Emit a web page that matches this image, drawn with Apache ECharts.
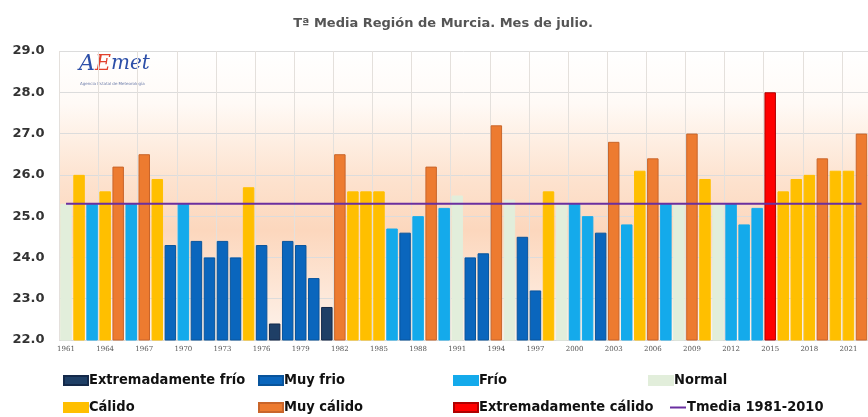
<!DOCTYPE html>
<html>
<head>
<meta charset="utf-8">
<script src="https://cdn.jsdelivr.net/npm/echarts@6/dist/echarts.min.js"></script>
<style>
  html, body { margin: 0; padding: 0; background: #fff; }
  #chart { width: 868px; height: 417px; }
</style>
</head>
<body>
<div id="chart"></div>
<script>
// años 1961-2022
const years = [];
for (let y = 1961; y <= 2022; y++) years.push(String(y));

const temps = [
  25.3, 26.0, 25.3, 25.6, 26.2, 25.3, 26.5, 25.9, 24.3, 25.3,
  24.4, 24.0, 24.4, 24.0, 25.7, 24.3, 22.4, 24.4, 24.3, 23.5,
  22.8, 26.5, 25.6, 25.6, 25.6, 24.7, 24.6, 25.0, 26.2, 25.2,
  25.5, 24.0, 24.1, 27.2, 25.4, 24.5, 23.2, 25.6, 25.3, 25.3,
  25.0, 24.6, 26.8, 24.8, 26.1, 26.4, 25.3, 25.3, 27.0, 25.9,
  25.3, 25.3, 24.8, 25.2, 28.0, 25.6, 25.9, 26.0, 26.4, 26.1,
  26.1, 27.0
];

// EF extremadamente frío, MF muy frío, F frío, N normal, C cálido, MC muy cálido, EC extremadamente cálido
const classes = [
  'N', 'C', 'F', 'C', 'MC', 'F', 'MC', 'C', 'MF', 'F',
  'MF', 'MF', 'MF', 'MF', 'C', 'MF', 'EF', 'MF', 'MF', 'MF',
  'EF', 'MC', 'C', 'C', 'C', 'F', 'MF', 'F', 'MC', 'F',
  'N', 'MF', 'MF', 'MC', 'N', 'MF', 'MF', 'C', 'N', 'F',
  'F', 'MF', 'MC', 'F', 'C', 'MC', 'F', 'N', 'MC', 'C',
  'N', 'F', 'F', 'F', 'EC', 'C', 'C', 'C', 'MC', 'C',
  'C', 'MC'
];

const meanT = 25.3;
const yTicks = [22, 23, 24, 25, 26, 27, 28, 29];

const classDefs = [
  { key: 'EF', name: 'Extremadamente frío', color: '#1f3f66', border: '#14294a' },
  { key: 'MF', name: 'Muy frio', color: '#0a66bd', border: '#08549c' },
  { key: 'F', name: 'Frío', color: '#14aaeb', border: '#14aaeb' },
  { key: 'N', name: 'Normal', color: '#e2eedb', border: '#e2eedb' },
  { key: 'C', name: 'Cálido', color: '#ffbf00', border: '#ffbf00' },
  { key: 'MC', name: 'Muy cálido', color: '#ed7b30', border: '#c9652a' },
  { key: 'EC', name: 'Extremadamente cálido', color: '#ff0000', border: '#b00000' }
];
const lineName = 'Tmedia 1981-2010';

const chart = echarts.init(document.getElementById('chart'));

const barSeries = classDefs.map(function (c) {
  return {
    name: c.name,
    type: 'bar',
    barWidth: '88%',
    barGap: '-100%',
    itemStyle: { color: c.color, borderColor: c.border, borderWidth: 1 },
    data: temps.map(function (v, j) { return classes[j] === c.key ? v : null; }),
    z: 2
  };
});

const legendFont = { fontFamily: 'DejaVu Sans Condensed', fontSize: 14.5, color: '#111', fontWeight: 'bold' };
const legendPos = [
  [63, 373], [258, 373], [453, 373], [648, 373],
  [63, 400], [258, 400], [453, 400], [670, 400]
];
const legendNames = classDefs.map(function (c) { return c.name; }).concat([lineName]);
const legends = legendNames.map(function (n, i) {
  const isLine = n === lineName;
  return {
    data: [{ name: n, icon: 'rect' }],
    left: legendPos[i][0],
    top: legendPos[i][1],
    itemWidth: isLine ? 16 : 24,
    itemHeight: isLine ? 2 : 9,
    itemGap: 0,
    padding: 0,
    textStyle: Object.assign({ padding: [0, 0, 0, -4] }, legendFont),
    selectedMode: false
  };
});

chart.setOption({
  animation: false,
  backgroundColor: '#ffffff',
  title: {
    text: 'Tª Media Región de Murcia. Mes de julio.',
    left: 438,
    textAlign: 'center',
    top: 12,
    textStyle: { fontFamily: 'DejaVu Sans', fontSize: 13, fontWeight: 'bold', color: '#555' }
  },
  legend: legends,
  grid: {
    left: 59.5,
    top: 51,
    width: 815,
    height: 289,
    show: true,
    borderWidth: 0,
    backgroundColor: new echarts.graphic.LinearGradient(0, 0, 0, 1, [
      { offset: 0, color: '#ffffff' },
      { offset: 0.18, color: '#fffaf6' },
      { offset: 0.45, color: '#fde2ce' },
      { offset: 0.62, color: '#fcd7bd' },
      { offset: 0.82, color: '#fde6d6' },
      { offset: 1, color: '#fdf3ec' }
    ])
  },
  graphic: [
    {
      type: 'text',
      left: 79,
      top: 53,
      style: {
        text: '{a|A}{e|E}{b|met}',
        rich: {
          a: { fontFamily: 'DejaVu Serif', fontStyle: 'italic', fontSize: 22, fill: '#2d4fa8' },
          e: { fontFamily: 'DejaVu Serif', fontStyle: 'italic', fontSize: 22, fill: '#e2412d' },
          b: { fontFamily: 'DejaVu Serif', fontStyle: 'italic', fontSize: 20, fill: '#2d4fa8' }
        }
      }
    },
    {
      type: 'text',
      left: 80,
      top: 82,
      style: { text: 'Agencia Estatal de Meteorología', fontSize: 4, fill: '#6a7aa8', fontFamily: 'DejaVu Sans' }
    }
  ],
  xAxis: {
    type: 'category',
    data: years,
    boundaryGap: true,
    axisLine: { show: true, lineStyle: { color: '#d9d9d9' } },
    axisTick: { show: false },
    axisLabel: {
      interval: 2,
      fontSize: 7,
      color: '#555',
      fontFamily: 'DejaVu Serif',
      margin: 6
    },
    splitLine: { show: true, interval: 2, lineStyle: { color: '#e4e0dc', width: 1 } }
  },
  yAxis: {
    type: 'value',
    min: yTicks[0],
    max: yTicks[yTicks.length - 1],
    interval: 1,
    axisLine: { show: false },
    axisTick: { show: false },
    axisLabel: {
      formatter: function (v) { return v.toFixed(1); },
      fontSize: 13,
      fontWeight: 'bold',
      color: '#333',
      fontFamily: 'DejaVu Sans',
      margin: 15
    },
    splitLine: { lineStyle: { color: '#dcdcdc', width: 1 } }
  },
  series: barSeries.concat([
    {
      name: lineName,
      type: 'line',
      data: years.map(function () { return meanT; }),
      symbol: 'none',
      lineStyle: { color: '#6a2fa0', width: 2 },
      itemStyle: { color: '#6a2fa0' },
      z: 5
    }
  ])
});
</script>
</body>
</html>
